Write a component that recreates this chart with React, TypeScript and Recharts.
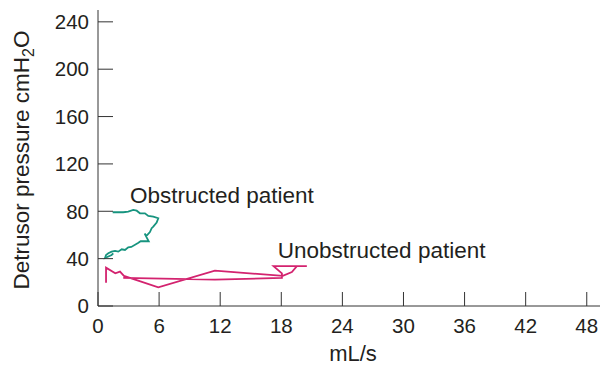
import React from "react";
import {
  LineChart,
  Line,
  XAxis,
  YAxis,
  ReferenceDot,
  Label,
} from "recharts";

// pressure-flow loops, flow in mL/s and pressure in cmH2O
const obstructedFlow = [
  1.44, 2.48, 2.97, 3.46, 3.8, 4.12, 4.61, 4.94, 5.43, 5.92, 5.76, 5.43, 5.27,
  5.1, 4.76, 4.58, 4.98, 4.19, 3.93, 3.27, 2.97, 2.65, 2.33, 1.99, 1.67, 1.34,
  1.01, 0.79, 0.69, 0.91, 1.34, 1.5,
];
const obstructedPressure = [
  79.2, 79.2, 79.7, 81.1, 80.5, 78.3, 78.3, 76.1, 75.5, 74.1, 70.4, 67.0, 65.7,
  62.5, 59.2, 61.1, 54.7, 54.7, 53.2, 49.9, 49.6, 47.3, 47.9, 45.9, 46.5, 45.9,
  44.5, 43.1, 40.6, 41.4, 43.1, 44.5,
];

const unobstructedFlow = [
  0.79, 0.79, 1.7, 2.16, 2.55, 5.92, 11.48, 18.15, 19.04, 19.53, 20.51, 17.24,
  18.06, 18.06, 11.48, 2.48,
];
const unobstructedPressure = [
  19.7, 32.4, 27.6, 29.0, 25.4, 15.8, 29.8, 25.4, 28.7, 33.6, 33.6, 33.6, 27.5,
  23.7, 22.2, 23.7,
];

const xTicks = [0, 6, 12, 18, 24, 30, 36, 42, 48];
const yTicks = [0, 40, 80, 120, 160, 200, 240];

const labels = [
  { text: "Obstructed patient", x: 3.14, y: 87 },
  { text: "Unobstructed patient", x: 17.66, y: 40.6 },
];

const obstructed = obstructedFlow.map((x, i) => ({ x, y: obstructedPressure[i] }));
const unobstructed = unobstructedFlow.map((x, i) => ({
  x,
  y: unobstructedPressure[i],
}));

const FONT = "'Liberation Sans', Arial, sans-serif";
const INK = "#231f20";

export default function App() {
  return (
    <div style={{ position: "absolute", left: 0, top: 0, background: "#fff" }}>
      <LineChart
        width={602}
        height={368}
        margin={{ top: 10, right: 2, left: 0, bottom: 0 }}
      >
        <XAxis
          type="number"
          dataKey="x"
          domain={[0, 49.3]}
          ticks={xTicks}
          allowDataOverflow
          height={62}
          tickSize={-14}
          tickMargin={26}
          stroke="#333"
          tick={{ fill: INK, fontSize: 20.5, fontFamily: FONT }}
        >
          <Label
            content={({ viewBox }: any) => (
              <text
                x={viewBox.x + viewBox.width / 2 + 4}
                y={viewBox.y + 55}
                textAnchor="middle"
                fill={INK}
                fontSize={22}
                fontFamily={FONT}
              >
                mL/s
              </text>
            )}
          />
        </XAxis>

        <YAxis
          type="number"
          dataKey="y"
          domain={[0, 250]}
          ticks={yTicks}
          allowDataOverflow
          width={98}
          tickSize={-15}
          tickMargin={24}
          stroke="#333"
          tick={{ fill: INK, fontSize: 20.5, fontFamily: FONT }}
        >
          <Label
            content={() => (
              <text
                transform="translate(29,160) rotate(-90)"
                textAnchor="middle"
                fill={INK}
                fontSize={22.5}
                fontFamily={FONT}
              >
                Detrusor pressure cmH
                <tspan fontSize={16} dy={5}>
                  2
                </tspan>
                <tspan dy={-5}>O</tspan>
              </text>
            )}
          />
        </YAxis>

        <Line
          data={obstructed}
          dataKey="y"
          type="linear"
          stroke="#17947f"
          strokeWidth={1.8}
          dot={false}
          isAnimationActive={false}
        />
        <Line
          data={unobstructed}
          dataKey="y"
          type="linear"
          stroke="#d3236f"
          strokeWidth={1.8}
          dot={false}
          isAnimationActive={false}
        />

        {labels.map((l) => (
          <ReferenceDot
            key={l.text}
            x={l.x}
            y={l.y}
            r={0}
            shape={(p: any) => (
              <text
                x={p.cx}
                y={p.cy}
                fill={INK}
                fontSize={22.5}
                fontFamily={FONT}
              >
                {l.text}
              </text>
            )}
          />
        ))}
      </LineChart>
    </div>
  );
}
